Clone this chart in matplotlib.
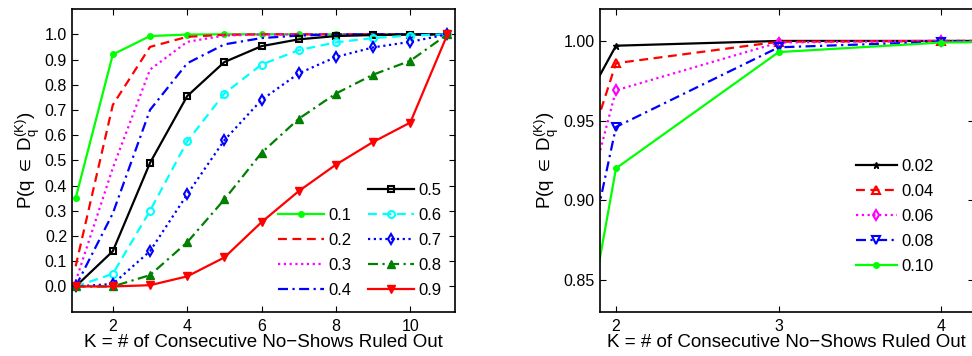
import matplotlib
matplotlib.use("Agg")
import matplotlib.pyplot as plt
import numpy as np

plt.rcParams['font.family'] = ['Liberation Sans', 'DejaVu Sans']
plt.rcParams['mathtext.fontset'] = 'custom'
plt.rcParams['mathtext.rm'] = 'Liberation Sans'
plt.rcParams['mathtext.it'] = 'Liberation Sans'
plt.rcParams['mathtext.fallback'] = 'stixsans'
# matlab-ish dash patterns
plt.rcParams['lines.dashed_pattern'] = [4.0, 2.5]
plt.rcParams['lines.dashdot_pattern'] = [4.5, 2.0, 1.0, 2.0]
plt.rcParams['lines.dotted_pattern'] = [1.0, 1.6]

# left panel: no-show probability p
k = [1, 2, 3, 4, 5, 6, 7, 8, 9, 10, 11]
p01 = [0.35, 0.92, 0.993, 0.999, 1.0, 1.0, 1.0, 1.0, 1.0, 1.0, 1.0]
p02 = [0.08, 0.72, 0.95, 0.99, 0.998, 1.0, 1.0, 1.0, 1.0, 1.0, 1.0]
p03 = [0.02, 0.47, 0.86, 0.97, 0.995, 0.999, 1.0, 1.0, 1.0, 1.0, 1.0]
p04 = [0.0, 0.29, 0.70, 0.885, 0.96, 0.985, 0.995, 0.999, 1.0, 1.0, 1.0]
p05 = [0.0, 0.14, 0.49, 0.755, 0.89, 0.953, 0.98, 0.993, 0.997, 0.999, 1.0]
p06 = [0.0, 0.05, 0.30, 0.575, 0.765, 0.88, 0.937, 0.968, 0.985, 0.995, 1.0]
p07 = [0.0, 0.01, 0.14, 0.365, 0.58, 0.74, 0.845, 0.91, 0.948, 0.97, 1.0]
p08 = [0.0, 0.0, 0.045, 0.175, 0.345, 0.53, 0.665, 0.765, 0.84, 0.895, 1.0]
p09 = [0.0, 0.0, 0.005, 0.04, 0.115, 0.255, 0.378, 0.483, 0.573, 0.65, 1.0]

# right panel: small p
q002 = [0.81, 0.997, 1.0, 1.0, 1.0, 1.0, 1.0, 1.0, 1.0, 1.0, 1.0]
q004 = [0.67, 0.986, 0.9995, 1.0, 1.0, 1.0, 1.0, 1.0, 1.0, 1.0, 1.0]
q006 = [0.58, 0.969, 0.999, 1.0, 1.0, 1.0, 1.0, 1.0, 1.0, 1.0, 1.0]
q008 = [0.47, 0.946, 0.996, 0.9995, 1.0, 1.0, 1.0, 1.0, 1.0, 1.0, 1.0]
q010 = p01

xlab = 'K = # of Consecutive No\u2212Shows Ruled Out'
ylab = 'P(q $\\in$ D$_\\mathregular{q}^\\mathregular{(K)}$)'

G = '#00ff00'
DG = '#008000'

fig = plt.figure(figsize=(9.72, 3.56), dpi=100)
ax1 = fig.add_axes([0.074, 0.1245, 0.394, 0.85])
ax2 = fig.add_axes([0.617, 0.1245, 0.385, 0.85])

lw = 1.6
h1 = []
h1 += ax1.plot(k, p01, '-', color=G, lw=lw, marker='o', ms=4, label='0.1')
h1 += ax1.plot(k, p02, '--', color='r', lw=lw, label='0.2')
h1 += ax1.plot(k, p03, ':', color='#ff00ff', lw=lw, label='0.3')
h1 += ax1.plot(k, p04, '-.', color='b', lw=lw, label='0.4')
h2 = []
h2 += ax1.plot(k, p05, '-', color='k', lw=lw, marker='s', ms=5, mfc='none', mew=1.5, label='0.5')
h2 += ax1.plot(k, p06, '--', color='#00ffff', lw=lw, marker='o', ms=5, mfc='none', mew=1.5, label='0.6')
h2 += ax1.plot(k, p07, ':', color='b', lw=lw, marker='d', ms=5, mfc='none', mew=1.5, label='0.7')
h2 += ax1.plot(k, p08, '-.', color=DG, lw=lw, marker='^', ms=6, label='0.8')
h2 += ax1.plot(k, p09, '-', color='r', lw=lw, marker='v', ms=6, label='0.9')

ax1.set_xlim(0.9, 11.2)
ax1.set_ylim(-0.1, 1.1)
ax1.set_xticks([2, 4, 6, 8, 10])
ax1.set_yticks(np.arange(0, 1.01, 0.1))
ax1.set_yticklabels(['%.1f' % v for v in np.arange(0, 1.01, 0.1)])

leg_kw = dict(frameon=False, fontsize=12, handletextpad=0.3, labelspacing=0.6,
              borderpad=0, borderaxespad=0, loc='lower left')
leg1 = ax1.legend(handles=h1, bbox_to_anchor=(0.538, 0.045), handlelength=2.75, **leg_kw)
ax1.add_artist(leg1)
ax1.legend(handles=h2, bbox_to_anchor=(0.773, 0.045), handlelength=2.75, **leg_kw)

ax2.plot(k, q002, '-', color='k', lw=lw, marker='*', ms=5, label='0.02')
ax2.plot(k, q004, '--', color='r', lw=lw, marker='^', ms=6, mfc='none', mew=1.5, label='0.04')
ax2.plot(k, q006, ':', color='#ff00ff', lw=lw, marker='d', ms=5, mfc='none', mew=1.5, label='0.06')
ax2.plot(k, q008, '-.', color='b', lw=lw, marker='v', ms=6, mfc='none', mew=1.5, label='0.08')
ax2.plot(k, q010, '-', color=G, lw=lw, marker='o', ms=4, label='0.10')
ax2.set_xlim(1.9, 4.2)
ax2.set_ylim(0.83, 1.02)
ax2.set_xticks([2, 3, 4])
ax2.set_yticks([0.85, 0.90, 0.95, 1.00])
ax2.set_yticklabels(['0.85', '0.90', '0.95', '1.00'])
ax2.legend(bbox_to_anchor=(0.684, 0.125), handlelength=2.45, **leg_kw)

for ax in (ax1, ax2):
    ax.tick_params(direction='in', top=True, right=True, labelsize=11.5, length=4, width=0.8)
    ax.tick_params(axis='x', pad=5)
    ax.set_xlabel(xlab, fontsize=13.5, labelpad=0)
    ax.set_ylabel(ylab, fontsize=13.5, labelpad=2)
    for s in ax.spines.values():
        s.set_linewidth(1.2)

fig.savefig('out.png', dpi=100)
